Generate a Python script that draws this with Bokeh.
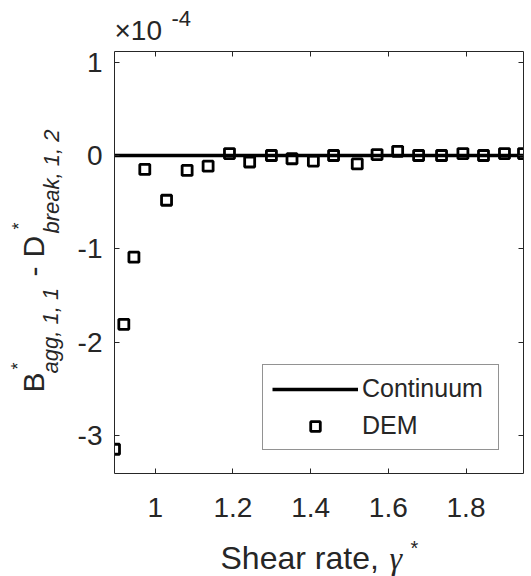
from bokeh.plotting import figure
from bokeh.models import Range1d, LinearAxis, FixedTicker, Label, Legend, LegendItem
from bokeh.layouts import row, column
from bokeh.embed import file_html
from bokeh.resources import INLINE

# ---- data (DEM values in units of 1e-4) ----
shear_rate = [0.895, 0.919, 0.945, 0.973, 1.029, 1.082, 1.136, 1.191, 1.243,
              1.299, 1.352, 1.407, 1.459, 1.520, 1.571, 1.624, 1.678, 1.737,
              1.792, 1.845, 1.899, 1.948]
dem_diff_e4 = [-3.15, -1.81, -1.09, -0.15, -0.48, -0.16, -0.115, 0.02, -0.07,
               0.0, -0.035, -0.06, 0.0, -0.09, 0.01, 0.045, 0.0, 0.0,
               0.02, 0.0, 0.02, 0.02]
continuum_x = [0.895, 1.948]
continuum_y = [0.0, 0.0]
x_ticks = [1.0, 1.2, 1.4, 1.6, 1.8]
x_tick_labels = ["1", "1.2", "1.4", "1.6", "1.8"]
y_ticks = [-3, -2, -1, 0, 1]
y_tick_labels = ["-3", "-2", "-1", "0", "1"]

FONT = "Liberation Sans"
SERIF = "Liberation Serif"
TXT = "#262626"
LW = 70          # width of the left text strip (page x 0..LW)
MW = 531 - LW    # width of the main column
TH = 46          # height of the top text strip
BH = 40          # height of the bottom text strip
FRAME_L, FRAME_R, FRAME_T, FRAME_B = 114, 523, 51, 473  # page coords of plot box


def no_align(f):
    try:
        f.frame_align = False
    except Exception:
        pass


# ---------------- main plot ----------------
p = figure(width=MW, height=576 - TH - BH,
           x_range=Range1d(0.895, 1.948), y_range=Range1d(-3.41, 1.115),
           output_backend="svg", toolbar_location=None,
           min_border_left=FRAME_L - LW, min_border_right=531 - FRAME_R,
           min_border_top=FRAME_T - TH, min_border_bottom=(576 - BH) - FRAME_B)
no_align(p)
p.outline_line_color = None
p.xgrid.visible = False
p.ygrid.visible = False
p.background_fill_color = "white"
p.border_fill_color = "white"


def style_axis(ax, ticks, labels, show_labels):
    ax.ticker = FixedTicker(ticks=ticks)
    ax.major_label_overrides = {t: l for t, l in zip(ticks, labels)}
    ax.axis_line_color = TXT
    ax.axis_line_width = 1
    ax.major_tick_line_color = TXT
    ax.major_tick_line_width = 1
    ax.major_tick_in = 5
    ax.major_tick_out = 0
    ax.minor_tick_line_color = None
    ax.major_label_text_font = FONT
    if show_labels:
        ax.major_label_text_font_size = "28px"
        ax.major_label_text_color = TXT
    else:
        ax.major_label_text_font_size = "1px"
        ax.major_label_text_color = None
        ax.major_label_standoff = 0


style_axis(p.xaxis[0], x_ticks, x_tick_labels, True)
p.xaxis[0].major_label_standoff = 24
style_axis(p.yaxis[0], y_ticks, y_tick_labels, True)
p.yaxis[0].major_label_standoff = 12

top_ax = LinearAxis()
style_axis(top_ax, x_ticks, x_tick_labels, False)
p.add_layout(top_ax, "above")
right_ax = LinearAxis()
style_axis(right_ax, y_ticks, y_tick_labels, False)
p.add_layout(right_ax, "right")

r_line = p.line(continuum_x, continuum_y, line_color="black", line_width=3.5)
r_dem = p.scatter(shear_rate, dem_diff_e4, marker="square", size=10,
                  fill_color=None, line_color="black", line_width=2.8)

legend = Legend(items=[LegendItem(label="Continuum", renderers=[r_line]),
                       LegendItem(label="DEM", renderers=[r_dem])],
                location=(148, 23))
legend.border_line_color = TXT
legend.border_line_width = 1
legend.background_fill_color = "white"
legend.background_fill_alpha = 1
legend.label_text_font = FONT
legend.label_text_font_size = "25px"
legend.label_text_color = TXT
legend.glyph_width = 86
legend.glyph_height = 24
legend.label_height = 24
legend.label_width = 127
legend.label_standoff = 4
legend.spacing = 8
legend.padding = 9
legend.margin = 0
p.add_layout(legend)


# ---------------- text strips ----------------
def blank_fig(w, h):
    f = figure(width=w, height=h, output_backend="svg", toolbar_location=None,
               x_axis_type=None, y_axis_type=None, min_border=0,
               x_range=Range1d(0, w), y_range=Range1d(0, h))
    no_align(f)
    f.outline_line_color = None
    f.background_fill_color = "white"
    f.border_fill_color = "white"
    return f


left_fig = blank_fig(LW, 576)     # page x 0..LW, y 0..576
top_fig = blank_fig(MW, TH)       # page x LW..531, y 0..TH
bottom_fig = blank_fig(MW, BH)    # page x LW..531, y 576-BH..576

MID = 0.35  # baseline lies this many em below the text middle


def lab(fig, ox, obottom, text, px, py, size_px, style="normal", angle=0, font=FONT):
    """px, py: page position of the start of the text's baseline."""
    if angle == 0:
        ax_, ay_ = px, py - MID * size_px
    else:  # rotated 90 deg CCW: 'up' of the glyphs points to -x
        ax_, ay_ = px - MID * size_px, py
    fig.add_layout(Label(x=ax_ - ox, y=obottom - ay_, x_units="screen", y_units="screen",
                         text=text, text_font=font, text_font_size=f"{size_px}px",
                         text_font_style=style, text_color=TXT, angle=angle,
                         angle_units="deg", text_align="left",
                         text_baseline="middle"))


# exponent label
lab(top_fig, LW, TH, "\u00d710", 114, 40, 28)
lab(top_fig, LW, TH, "-4", 171, 26, 22)

# x axis label
lab(bottom_fig, LW, 576, "Shear rate,", 220, 569, 32)
lab(bottom_fig, LW, 576, "\u03b3", 389, 569, 32, style="italic", font=SERIF)
lab(bottom_fig, LW, 576, "*", 410, 554, 20)

# y axis label (rotated)
lab(left_fig, 0, 576, "B", 43, 392, 30, angle=90)
lab(left_fig, 0, 576, "*", 24, 369, 18, angle=90)
lab(left_fig, 0, 576, "agg, 1, 1", 58, 373, 22, style="italic", angle=90)
lab(left_fig, 0, 576, "-", 44, 276, 30, angle=90)
lab(left_fig, 0, 576, "D", 43, 257, 30, angle=90)
lab(left_fig, 0, 576, "*", 25, 229, 18, angle=90)
lab(left_fig, 0, 576, "break, 1, 2", 59, 233, 22, style="italic", angle=90)

layout = row(left_fig, column(top_fig, p, bottom_fig))
open("out.html", "w").write(file_html(layout, INLINE))
